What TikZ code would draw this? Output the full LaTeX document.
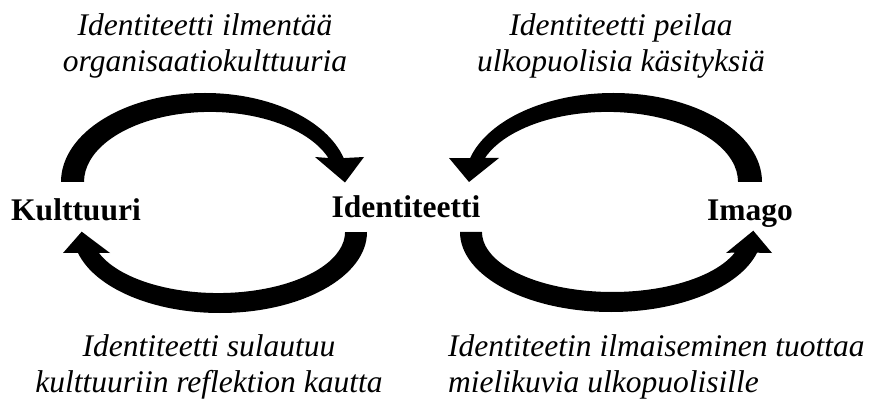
\documentclass[tikz,border=0pt]{standalone}
\usepackage{fontspec}
\setmainfont{Liberation Serif}
\usetikzlibrary{positioning}

\begin{document}
\begin{tikzpicture}[x=1pt, y=1pt,
		concept/.style={font=\fontsize{31.5}{36}\selectfont\bfseries, inner sep=0pt, anchor=base},
		note/.style={font=\fontsize{31.5}{36}\selectfont\itshape, inner sep=0pt, anchor=base, align=center},
		bigarrow/.style={fill=black}]
	\useasboundingbox (0,0) rectangle (875,402);
	\node[concept] (kult) at (76,181) {Kulttuuri};
	\node[concept] (ident) at (406,184) {Identiteetti};
	\node[concept] (imago) at (750,181) {Imago};
	\node[note] (ilmentaa) at (205,330) {Identiteetti ilmentää\\organisaatiokulttuuria};
	\node[note] (peilaa) at (621,330) {Identiteetti peilaa\\ulkopuolisia käsityksiä};
	\node[note] (sulautuu) at (209,10) {Identiteetti sulautuu\\kulttuuriin reflektion kautta};
	\node[note, align=left, anchor=base west] (tuottaa) at (448,10) {Identiteetin ilmaiseminen tuottaa\\mielikuvia ulkopuolisille};
	% kulttuuri -> identiteetti
	\fill[bigarrow] (61,220) arc[start angle=180, end angle=15.6, x radius=144, y radius=89]
		-- (364,245) -- (345,219.5) -- (315,245) -- (328.4,244)
		arc[start angle=20, end angle=180, x radius=126, y radius=70] -- cycle;
	% identiteetti -> kulttuuri
	\fill[bigarrow] (367,170) arc[start angle=0, end angle=-165, x radius=147, y radius=81]
		-- (63,149) -- (81.7,170.3) -- (110,149) -- (98.9,149.1)
		arc[start angle=-160, end angle=0, x radius=126.9, y radius=61] -- cycle;
	% imago -> identiteetti
	\fill[bigarrow] (762,220) arc[start angle=0, end angle=164.4, x radius=148.7, y radius=89]
		-- (449,244) -- (469,220) -- (499,244) -- (484.9,244)
		arc[start angle=160, end angle=0, x radius=130.5, y radius=70] -- cycle;
	% identiteetti -> imago
	\fill[bigarrow] (460,170) arc[start angle=180, end angle=345, x radius=151.1, y radius=80]
		-- (772,149) -- (753.3,171.3) -- (726,149) -- (734.9,149.5)
		arc[start angle=340, end angle=180, x radius=130.4, y radius=60] -- cycle;
\end{tikzpicture}
\end{document}
